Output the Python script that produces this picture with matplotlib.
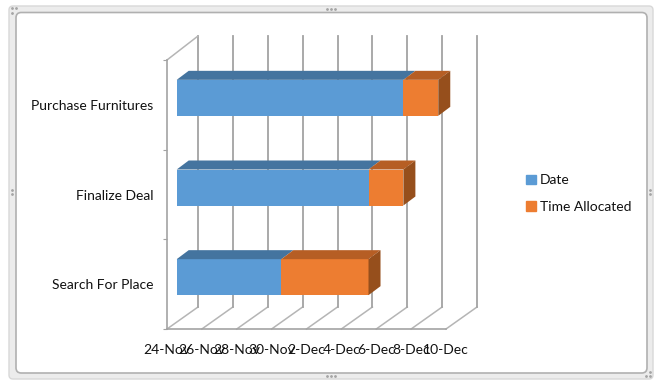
import matplotlib
matplotlib.use("Agg")
import matplotlib.pyplot as plt
import matplotlib.dates as mdates
from matplotlib.patches import FancyBboxPatch, Polygon, Patch
import datetime as dt

tasks = ["Search For Place", "Finalize Deal", "Purchase Furnitures"]
start_days = ["2016-11-30", "2016-12-05", "2016-12-07"]
allocated = [5, 2, 2]
tick_dates = ["2016-11-24", "2016-11-26", "2016-11-28", "2016-11-30", "2016-12-02",
              "2016-12-04", "2016-12-06", "2016-12-08", "2016-12-10"]
tick_labels = ["24-Nov", "26-Nov", "28-Nov", "30-Nov", "2-Dec", "4-Dec", "6-Dec", "8-Dec", "10-Dec"]

plt.rcParams["font.family"] = ["Lato", "DejaVu Sans"]
W, H = 662, 388
fig = plt.figure(figsize=(W / 100, H / 100), dpi=100, facecolor="white")

# window-like chart frame
def frame(x0, y0, x1, y1, fc, ec, lw, r):
    fig.add_artist(FancyBboxPatch((x0 / W, 1 - y1 / H), (x1 - x0) / W, (y1 - y0) / H,
                                  boxstyle=f"round,pad=0,rounding_size={r}",
                                  transform=fig.transFigure,
                                  mutation_aspect=W / H, fc=fc, ec=ec, lw=lw, zorder=-3))
frame(9, 6, 653, 379, "#ececec", "#d8d8d8", 1.0, 0.006)
frame(16, 12.5, 647, 373, "white", "#b0b0b0", 1.2, 0.008)
for (gx, gy) in [(12, 8), (16, 8), (12, 13), (650, 372), (646, 376), (650, 376),
                 (331, 9), (327, 9), (335, 9), (331, 376), (327, 376), (335, 376),
                 (12, 190), (12, 194), (650, 190), (650, 194)]:
    fig.add_artist(plt.Line2D([gx / W], [1 - gy / H], marker="o", ms=1.0, color="#a5a5a5", lw=0, zorder=-2))

# axes = front plane of the 3-D box
L, R, T, B = 167, 446, 60, 329
ax = fig.add_axes([L / W, 1 - B / H, (R - L) / W, (B - T) / H])
ax.patch.set_alpha(0)
num_ticks = [mdates.date2num(dt.date.fromisoformat(d)) for d in tick_dates]
x0, x1 = num_ticks[0], num_ticks[-1]
ax.set_xlim(x0, x1)
ax.set_ylim(-0.5, 2.5)
px_x = (x1 - x0) / (R - L)      # data per pixel
px_y = 3 / (B - T)

GRID = "#a3a3a3"
glw = 1.3
ybot, ytop = -0.5, 2.5
for x in num_ticks:
    ax.plot([x, x + 31 * px_x], [ybot, ybot + 22 * px_y], color="#b5b5b5", lw=1.1, clip_on=False, zorder=1)
    ax.plot([x + 31 * px_x] * 2, [ybot + 22 * px_y, ytop + 24 * px_y], color=GRID, lw=glw, clip_on=False, zorder=1)
ax.plot([x0, x0 + 31 * px_x], [ytop, ytop + 24 * px_y], color="#b5b5b5", lw=1.1, clip_on=False, zorder=1)

# bars sit part-way into the box
ox, oy = 9.7 * px_x, 7 * px_y
dx, dy = 12 * px_x, 9 * px_y
hgt = 36 * px_y
BLUE, ORANGE = "#5b9bd5", "#ed7d31"
BLUE_TOP, ORANGE_TOP, ORANGE_SIDE = "#44749f", "#b65e24", "#964f1c"
for i, (s, a) in enumerate(zip(start_days, allocated)):
    end1 = mdates.date2num(dt.date.fromisoformat(s))
    y = i + oy
    ytp = y + hgt / 2
    ybt = y - hgt / 2
    ax.barh(y, end1 - x0, hgt, left=x0 + ox, color=BLUE, clip_on=False, zorder=3)
    ax.barh(y, a, hgt, left=end1 + ox, color=ORANGE, clip_on=False, zorder=3)
    a0, a1, a2 = x0 + ox, end1 + ox, end1 + a + ox
    ax.add_patch(Polygon([(a0, ytp), (a1, ytp), (a1 + dx, ytp + dy), (a0 + dx, ytp + dy)],
                         fc=BLUE_TOP, ec="none", clip_on=False, zorder=3))
    ax.add_patch(Polygon([(a1, ytp), (a2, ytp), (a2 + dx, ytp + dy), (a1 + dx, ytp + dy)],
                         fc=ORANGE_TOP, ec="none", clip_on=False, zorder=3))
    ax.add_patch(Polygon([(a2, ytp), (a2 + dx, ytp + dy), (a2 + dx, ybt + dy), (a2, ybt)],
                         fc=ORANGE_SIDE, ec="none", clip_on=False, zorder=3))

# axes furniture
for sp in ["top", "right"]:
    ax.spines[sp].set_visible(False)
for sp in ["left", "bottom"]:
    ax.spines[sp].set_color(GRID)
    ax.spines[sp].set_linewidth(1.2)
ax.set_xticks(num_ticks)
ax.set_xticklabels(tick_labels, fontsize=10, color="#111111")
ax.tick_params(axis="x", length=0, pad=10.5)
ax.set_yticks([-0.5, 0.5, 1.5, 2.5])
ax.set_yticklabels([])
ax.tick_params(axis="y", which="major", length=3, color=GRID)
ax.set_yticks([0, 1, 2], minor=True)
ax.set_yticklabels(tasks, minor=True, fontsize=10, color="#111111")
ax.tick_params(axis="y", which="minor", length=0, pad=10)

fig.legend(handles=[Patch(color=BLUE, label="Date"), Patch(color=ORANGE, label="Time Allocated")],
           loc="center left", bbox_to_anchor=(523.5 / W, 1 - 193.5 / H), frameon=False,
           fontsize=10, handlelength=0.72, handleheight=0.7, handletextpad=0.25,
           labelspacing=1.03, labelcolor="#111111", borderpad=0.2, borderaxespad=0)

fig.savefig("out.png", dpi=100)
